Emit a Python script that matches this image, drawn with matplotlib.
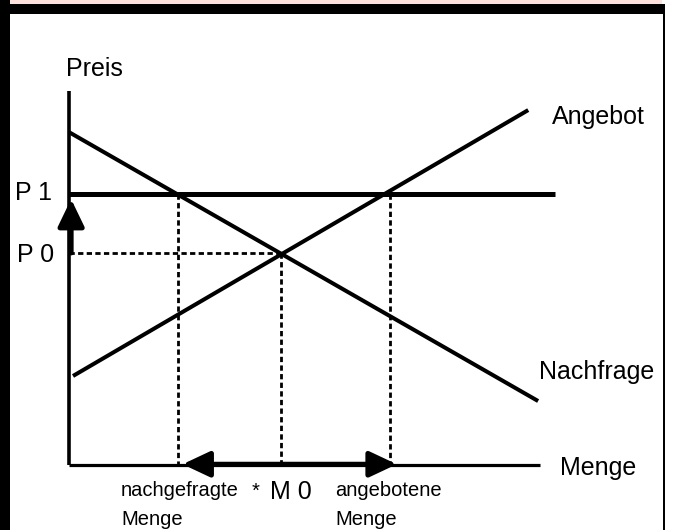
import matplotlib
matplotlib.use("Agg")
import matplotlib.pyplot as plt
from matplotlib.patches import Rectangle

plt.rcParams['font.family'] = ['Liberation Sans', 'DejaVu Sans']

# ---- data (schematic market diagram, units 0..100) ----
demand_q = [0.0, 99.6]
demand_p = [89.0, 17.1]
supply_q = [0.85, 97.5]
supply_p = [23.8, 94.9]
p1 = 72.5          # minimum price
p0 = 56.7          # equilibrium price
q0 = 45.0          # equilibrium quantity
q_demanded = 23.1  # quantity demanded at P1
q_supplied = 68.2  # quantity supplied at P1
p1_line_end = 103.2
axis_max_q = 100.0
axis_max_p = 100.0

labels = {
    "price_axis": "Preis",
    "qty_axis": "Menge",
    "supply": "Angebot",
    "demand": "Nachfrage",
    "p1": "P 1",
    "p0": "P 0",
    "m0": "M 0",
    "qd": ["nachgefragte", "Menge"],
    "qs": ["angebotene", "Menge"],
}

W, H = 675, 530
fig = plt.figure(figsize=(6.75, 5.30), dpi=100)
fig.patch.set_facecolor("white")

# pixel -> data mapping
x0px, y0px = 69, 465
sx, sy = 4.71, 3.74
ax = fig.add_axes([0, 0, 1, 1])
ax.set_xlim(-x0px / sx, (W - x0px) / sx)
ax.set_ylim(-(H - y0px) / sy, y0px / sy)
ax.axis("off")

def fx(px):
    return px / W

def fy(py):
    return 1 - py / H

# frame decorations
fig.patches.append(Rectangle((fx(10), fy(4)), fx(652), 4 / H, transform=fig.transFigure,
                             facecolor="#fde2de", edgecolor="none", zorder=0))
fig.patches.append(Rectangle((0, fy(13.5)), fx(665), 10 / H, transform=fig.transFigure,
                             facecolor="black", edgecolor="none", zorder=0))
fig.patches.append(Rectangle((0, 0), fx(10), 1, transform=fig.transFigure,
                             facecolor="black", edgecolor="none", zorder=0))
fig.patches.append(Rectangle((fx(662.5), 0), fx(2.5), fy(4), transform=fig.transFigure,
                             facecolor="black", edgecolor="none", zorder=0))

# axes
ax.plot([0, 0], [0, axis_max_p], color="black", lw=2.6, solid_capstyle="butt")
ax.plot([0, axis_max_q], [0, 0], color="black", lw=2.3, solid_capstyle="butt")

# curves
ax.plot(demand_q, demand_p, color="black", lw=2.9, solid_capstyle="butt")
ax.plot(supply_q, supply_p, color="black", lw=2.9, solid_capstyle="butt")
ax.plot([0, p1_line_end], [p1, p1], color="black", lw=3.6, solid_capstyle="butt")

# guide lines
dash = (0, (1.9, 1.2))
dlw = 2.0
ax.plot([0, q0], [p0, p0], color="black", lw=dlw, ls=dash)
ax.plot([q_demanded, q_demanded], [p1, 0], color="black", lw=dlw, ls=dash)
ax.plot([q0, q0], [p0, 0], color="black", lw=dlw, ls=dash)
ax.plot([q_supplied, q_supplied], [p1, 0], color="black", lw=dlw, ls=dash)

# arrow P0 -> P1
ax.annotate("", xy=(0.45, p1 - 1.4), xytext=(0.45, p0),
            arrowprops=dict(arrowstyle="-|>,head_length=1.66,head_width=0.8",
                            mutation_scale=10, lw=3.6, color="black",
                            shrinkA=0, shrinkB=0))

# double arrow between demanded and supplied quantity
ax.annotate("", xy=(q_demanded + 1.0, 0.2), xytext=(q_supplied + 1.4, 0.2),
            arrowprops=dict(arrowstyle="<|-|>,head_length=1.66,head_width=0.78",
                            mutation_scale=10, lw=3.6, color="black",
                            shrinkA=0, shrinkB=0))

# texts
fs_big = 18
fs_small = 14.5
def t(px, py, s, fs):
    fig.text(fx(px), fy(py), s, fontsize=fs, va="baseline", ha="left")

t(66, 76, labels["price_axis"], fs_big)
t(15, 200, labels["p1"], fs_big)
t(17, 262, labels["p0"], fs_big)
t(552, 124, labels["supply"], fs_big)
t(539, 379, labels["demand"], fs_big)
t(560, 475, labels["qty_axis"], fs_big)
t(270, 499, labels["m0"], fs_big)
t(252, 497, "*", fs_small)
t(121, 496, labels["qd"][0], fs_small)
t(121, 525, labels["qd"][1], fs_small)
t(335, 496, labels["qs"][0], fs_small)
t(335, 525, labels["qs"][1], fs_small)

fig.savefig("out.png", dpi=100, facecolor="white")
